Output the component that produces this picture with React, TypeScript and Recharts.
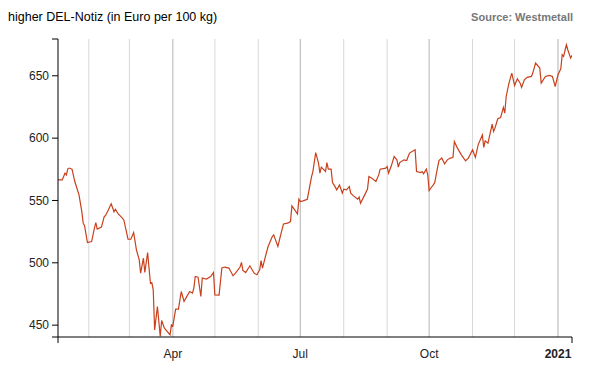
import React from 'react';
import { LineChart, XAxis, YAxis, Line, ReferenceLine } from 'recharts';

const dates = [
  '2020-01-10', '2020-01-13', '2020-01-15', '2020-01-16', '2020-01-17', '2020-01-18', '2020-01-20', '2020-01-22',
  '2020-01-25', '2020-01-27', '2020-01-28', '2020-01-29', '2020-01-31', '2020-02-03', '2020-02-05', '2020-02-06',
  '2020-02-07', '2020-02-10', '2020-02-12', '2020-02-13', '2020-02-15', '2020-02-17', '2020-02-19', '2020-02-20',
  '2020-02-22', '2020-02-25', '2020-02-26', '2020-02-29', '2020-03-02', '2020-03-04', '2020-03-06', '2020-03-08',
  '2020-03-09', '2020-03-11', '2020-03-12', '2020-03-14', '2020-03-16', '2020-03-17', '2020-03-18', '2020-03-19',
  '2020-03-21', '2020-03-23', '2020-03-24', '2020-03-26', '2020-03-30', '2020-03-31', '2020-04-01', '2020-04-03',
  '2020-04-05', '2020-04-07', '2020-04-09', '2020-04-11', '2020-04-13', '2020-04-15', '2020-04-16', '2020-04-17',
  '2020-04-19', '2020-04-21', '2020-04-22', '2020-04-25', '2020-04-28', '2020-04-30', '2020-05-01', '2020-05-04',
  '2020-05-06', '2020-05-08', '2020-05-11', '2020-05-14', '2020-05-16', '2020-05-19', '2020-05-20', '2020-05-21',
  '2020-05-23', '2020-05-26', '2020-05-29', '2020-05-31', '2020-06-02', '2020-06-03', '2020-06-04', '2020-06-06',
  '2020-06-08', '2020-06-11', '2020-06-12', '2020-06-15', '2020-06-17', '2020-06-19', '2020-06-22', '2020-06-24',
  '2020-06-25', '2020-06-27', '2020-06-29', '2020-06-30', '2020-07-01', '2020-07-03', '2020-07-06', '2020-07-09',
  '2020-07-10', '2020-07-12', '2020-07-14', '2020-07-15', '2020-07-16', '2020-07-19', '2020-07-20', '2020-07-21',
  '2020-07-23', '2020-07-24', '2020-07-26', '2020-07-27', '2020-07-29', '2020-07-31', '2020-08-01', '2020-08-03',
  '2020-08-05', '2020-08-06', '2020-08-08', '2020-08-11', '2020-08-12', '2020-08-13', '2020-08-16', '2020-08-18',
  '2020-08-19', '2020-08-21', '2020-08-24', '2020-08-26', '2020-08-27', '2020-08-31', '2020-09-01', '2020-09-02',
  '2020-09-04', '2020-09-06', '2020-09-08', '2020-09-09', '2020-09-10', '2020-09-13', '2020-09-15', '2020-09-16',
  '2020-09-17', '2020-09-21', '2020-09-22', '2020-09-25', '2020-09-26', '2020-09-27', '2020-09-29', '2020-09-30',
  '2020-10-01', '2020-10-03', '2020-10-04', '2020-10-05', '2020-10-06', '2020-10-08', '2020-10-10', '2020-10-12',
  '2020-10-14', '2020-10-16', '2020-10-18', '2020-10-19', '2020-10-21', '2020-10-24', '2020-10-27', '2020-10-29',
  '2020-11-01', '2020-11-03', '2020-11-05', '2020-11-08', '2020-11-09', '2020-11-10', '2020-11-12', '2020-11-15',
  '2020-11-16', '2020-11-17', '2020-11-19', '2020-11-21', '2020-11-23', '2020-11-24', '2020-11-25', '2020-11-27',
  '2020-11-29', '2020-12-01', '2020-12-03', '2020-12-05', '2020-12-06', '2020-12-08', '2020-12-10', '2020-12-13',
  '2020-12-14', '2020-12-16', '2020-12-19', '2020-12-20', '2020-12-23', '2020-12-26', '2020-12-28', '2020-12-30',
  '2021-01-01', '2021-01-03', '2021-01-04', '2021-01-05', '2021-01-07', '2021-01-08', '2021-01-10', '2021-01-11',
];

const prices = [
  566.5, 566.5, 571.9, 570.5, 575.4, 576, 575.1, 565.2,
  554.5, 541, 531.8, 529.6, 516.2, 517, 527.8, 532.3,
  527, 528.6, 537, 538, 542.5, 547.3, 541, 543,
  539.2, 535.8, 534.4, 518.9, 518.9, 524.2, 510.4, 502.3,
  491.7, 503.7, 492.2, 508.2, 483.6, 484.1, 478.3, 446.2,
  465, 440.9, 453.7, 447.6, 442.2, 450.2, 449.4, 462.8,
  462.8, 477, 469, 473.1, 477, 475.7, 479.7, 489,
  488.5, 473, 487.8, 487, 489, 492.2, 474.3, 474.1,
  495.8, 496.6, 495.8, 489.6, 492.2, 496.6, 500.3, 493.9,
  492.2, 497.6, 491.7, 490.4, 494.4, 501.8, 495.8, 504.6,
  513.1, 521.1, 522.4, 513.1, 522.4, 531.2, 531.8, 533.1,
  545.7, 542.5, 539.2, 551, 549.1, 549.7, 551, 569,
  573.2, 588.4, 579.9, 571.9, 576.7, 573.2, 580.4, 575.1,
  575.1, 564.4, 560.7, 558.5, 562.5, 555.9, 559.1, 558.5,
  561.2, 555.9, 553.7, 551, 552.7, 547.8, 554.5, 559.1,
  569.2, 567.9, 565.2, 570.5, 575.1, 575.9, 577.2, 571.9,
  577.8, 585.2, 582.6, 576.7, 580.4, 582.6, 582, 585.2,
  588, 590.6, 573.2, 572.4, 573.2, 571.3, 575.1, 570.5,
  557.9, 561.2, 562.5, 564.4, 570.5, 582, 584, 579.4,
  582.6, 584, 584.4, 597.3, 592.4, 586.6, 581.8, 584,
  590.6, 584.5, 594.6, 602.6, 592.5, 597.8, 596, 611.2,
  605.3, 608, 615.5, 616.5, 624.6, 620, 633.4, 644.1,
  652.2, 642.2, 647.6, 644.1, 640.6, 646.8, 648.7, 649.5,
  652.2, 660.2, 656.2, 644.1, 649.5, 650.3, 649.5, 641.4,
  650.8, 655.6, 666.9, 665.5, 674.9, 670.9, 664.2, 666.4,
];

const rangeDates = ['2020-01-10', '2021-01-11'];
const monthStarts = [
  '2020-02-01', '2020-03-01', '2020-04-01', '2020-05-01', '2020-06-01', '2020-07-01',
  '2020-08-01', '2020-09-01', '2020-10-01', '2020-11-01', '2020-12-01', '2021-01-01',
];
const quarterStarts = ['2020-04-01', '2020-07-01', '2020-10-01', '2021-01-01'];
const quarterLabels = ['Apr', 'Jul', 'Oct', '2021'];
const yTicks = [450, 500, 550, 600, 650];
const yRange = [440.5, 679.5];

const toTime = (d: string) => Date.parse(d + 'T00:00:00Z');

const data = dates.map((d, i) => ({ t: toTime(d), price: prices[i] }));
const startT = toTime(rangeDates[0]);
const endT = toTime(rangeDates[1]);
const labelByTime: Record<number, string> = {};
quarterStarts.forEach((d, i) => (labelByTime[toTime(d)] = quarterLabels[i]));

const FONT = '"Liberation Sans", Arial, sans-serif';

// only the two ends of the time axis get a tick mark, the quarters get a label
const XTick = (props: any) => {
  const { x, y, payload } = props;
  const v = payload.value;
  if (v === startT || v === endT) {
    return <line x1={x} x2={x} y1={y - 12} y2={y - 6} stroke="#000" />;
  }
  const label = labelByTime[v];
  return (
    <text
      x={x}
      y={y}
      dy="0.71em"
      textAnchor="middle"
      fontFamily={FONT}
      fontSize={12}
      fontWeight={label === '2021' ? 'bold' : 'normal'}
      fill="#222"
    >
      {label}
    </text>
  );
};

export default function App() {
  return (
    <div style={{ position: 'absolute', left: 0, top: 0, width: 602, height: 378, background: '#fff' }}>
      <div
        style={{
          position: 'absolute', left: 8, top: 10, fontFamily: FONT, fontSize: 12.5, color: '#000', whiteSpace: 'nowrap',
        }}
      >
        higher DEL-Notiz (in Euro per 100 kg)
      </div>
      <div
        style={{
          position: 'absolute', right: 29, top: 11, fontFamily: FONT, fontSize: 11, fontWeight: 'bold',
          color: '#777', whiteSpace: 'nowrap',
        }}
      >
        Source: Westmetall
      </div>
      <LineChart width={602} height={378} data={data} margin={{ top: 39, right: 30, left: 0, bottom: 0 }}>
        {monthStarts.map((m) => (
          <ReferenceLine
            key={m}
            x={toTime(m)}
            stroke={quarterStarts.includes(m) ? '#b4b4b4' : '#d8d8d8'}
            strokeWidth={1}
          />
        ))}
        <XAxis
          dataKey="t"
          type="number"
          scale="time"
          domain={[startT, endT]}
          ticks={[startT, ...quarterStarts.map(toTime), endT]}
          interval={0}
          height={41}
          tickSize={6}
          tickMargin={6}
          tickLine={false}
          axisLine={{ stroke: '#000' }}
          tick={<XTick />}
          allowDataOverflow
        />
        <YAxis
          type="number"
          domain={yRange}
          ticks={[yRange[0], ...yTicks, yRange[1]]}
          interval={0}
          width={58}
          tickSize={6}
          tickMargin={3}
          tickLine={{ stroke: '#000' }}
          axisLine={{ stroke: '#000' }}
          tick={{ fontFamily: FONT, fontSize: 12, fill: '#222' }}
          tickFormatter={(v: number) => (yTicks.includes(v) ? String(v) : '')}
          allowDataOverflow
        />
        <Line
          type="linear"
          dataKey="price"
          stroke="#c8401c"
          strokeWidth={1.2}
          dot={false}
          isAnimationActive={false}
        />
      </LineChart>
    </div>
  );
}
